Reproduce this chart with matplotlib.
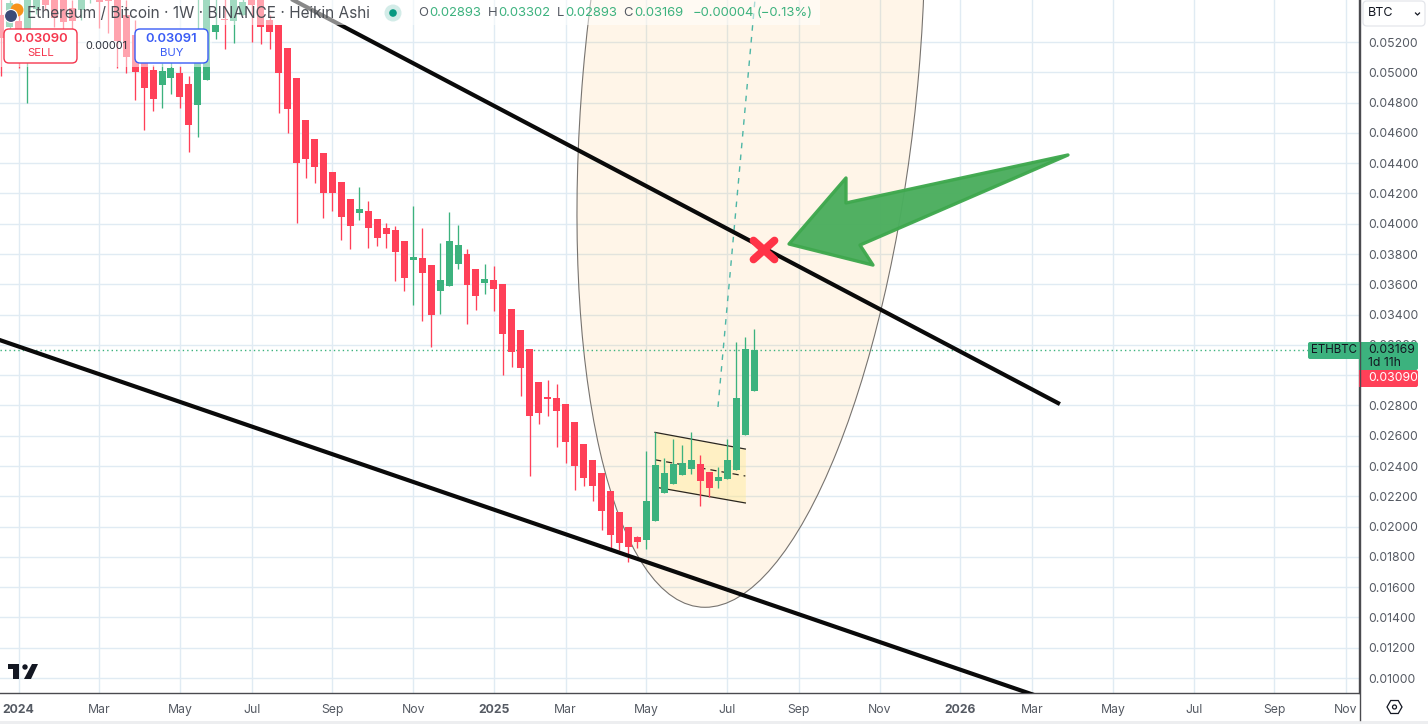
import matplotlib
matplotlib.use("Agg")
import matplotlib.pyplot as plt
from matplotlib.patches import Circle, FancyBboxPatch, Polygon, Rectangle, RegularPolygon
from matplotlib.transforms import Affine2D
import numpy as np

plt.rcParams['font.family'] = ['Inter', 'DejaVu Sans']

# weekly Heikin Ashi candles, first one is two weeks before 2024
first_week = -2
open_ = [.05378,.05299,.05339,.05279,.05418,.05543,.05543,.05543,.05425,.05411,
         .05500,.05543,.05543,.05510,.05378,.05246,.05061,.05015,.04916,.04962,
         .04995,.04923,.04784,.04949,.05266,.05352,.05339,.05378,.05477,.05510,
         .05345,.05312,.05160,.04962,.04685,.04559,.04467,.04342,.04275,.04163,
         .04071,.04084,.04031,.03972,.03958,.03886,.03760,.03774,.03727,.03556,
         .03589,.03734,.03800,.03701,.03609,.03628,.03602,.03437,.03298,.03173,
         .02955,.02856,.02849,.02809,.02691,.02545,.02440,.02354,.02235,.02096,
         .01997,.01931,.01911,.02037,.02222,.02281,.02341,.02380,.02413,.02360,
         .02301,.02314,.02374,.02605,.02893]
close = [.05226,.05458,.05226,.05543,.05543,.05444,.05359,.05332,.05339,.05543,
         .05543,.05464,.05471,.05207,.05101,.05002,.04896,.04824,.05008,.05028,
         .04837,.04652,.05101,.05543,.05312,.05345,.05510,.05464,.05444,.05299,
         .05266,.04995,.04758,.04401,.04427,.04375,.04203,.04203,.04044,.03985,
         .04097,.03972,.03906,.03932,.03813,.03641,.03780,.03675,.03397,.03628,
         .03886,.03859,.03595,.03523,.03635,.03569,.03272,.03153,.03047,.02730,
         .02750,.02842,.02763,.02558,.02400,.02321,.02268,.02103,.01944,.01891,
         .01865,.01898,.02169,.02407,.02354,.02413,.02420,.02440,.02301,.02255,
         .02327,.02440,.02849,.03173,.03169]
high = [.05543,.05477,.05378,.05543,.05543,.05610,.05610,.05610,.05477,.05610,
        .05610,.05610,.05610,.05610,.05477,.05345,.05081,.05048,.05061,.05068,
        .05042,.04975,.05560,.05610,.05543,.05543,.05610,.05543,.05610,.05610,
        .05378,.05312,.05160,.04962,.04685,.04559,.04467,.04342,.04275,.04163,
        .04242,.04150,.04031,.04005,.03985,.03886,.04117,.03972,.03727,.03873,
        .04077,.03992,.03833,.03701,.03734,.03721,.03602,.03437,.03298,.03173,
        .02955,.02968,.02942,.02809,.02691,.02545,.02440,.02354,.02235,.02096,
        .01997,.01938,.02499,.02625,.02453,.02578,.02539,.02625,.02473,.02360,
        .02393,.02578,.03219,.03252,.03302]
low = [.04975,.05279,.05028,.04797,.05385,.05411,.05299,.05286,.05279,.05345,
       .05458,.05293,.05259,.05028,.04995,.04817,.04619,.04744,.04764,.04857,
       .04764,.04474,.04573,.04949,.05220,.05154,.05193,.05378,.05200,.05187,
       .05154,.04731,.04599,.04005,.04302,.04269,.04038,.04084,.03892,.03833,
       .04025,.03840,.03853,.03840,.03622,.03556,.03463,.03358,.03186,.03404,
       .03589,.03701,.03338,.03430,.03536,.03424,.03000,.03054,.02862,.02334,
       .02677,.02730,.02525,.02420,.02241,.02268,.02169,.01977,.01858,.01845,
       .01766,.01858,.01852,.02037,.02222,.02281,.02341,.02347,.02136,.02195,
       .02255,.02314,.02374,.02605,.02893]

last_price = 0.03169
price_ticks = [0.010 + 0.002 * k for k in range(22)]
week_ticks = [0, 9, 18, 26, 35, 44, 53, 61, 70, 79, 87, 96, 105, 113, 122, 131, 140, 148]
week_labels = ['2024', 'Mar', 'May', 'Jul', 'Sep', 'Nov', '2025', 'Mar', 'May', 'Jul',
               'Sep', 'Nov', '2026', 'Mar', 'May', 'Jul', 'Sep', 'Nov']

# drawings on the chart, (week, price)
upper_x = [29.16, 116.1]
upper_y = [.05523, .02809]
lower_x = [-3.18, 113.9]
lower_y = [.03254, .00874]
channel_x = [70.96, 81.03]
channel_top = [.02622, .02512]
channel_mid = [.02441, .02334]
channel_bot = [.02261, .02156]
path_x = [77.98, 82.1]
path_y = [.02790, .05477]
cross_x = [81.94, 84.28]
cross_y = [.03889, .03764]
arrow_x = [85.9, 92.25, 92.25, 117.0, 93.81, 95.26]
arrow_y = [.03866, .04302, .04137, .04454, .03859, .03727]
# tilted ellipse: centre, half width, half height, tilt
ell_cx, ell_cy = 81.66, 0.0500
ell_w, ell_h, ell_rho = 19.4, 0.03533, 0.264

RED = '#FF4058'
GREEN = '#3CB27E'
GRID = '#E0EBF3'
TXT = '#555a63'
W, H = 1428, 724

fig = plt.figure(figsize=(W / 100, H / 100), dpi=100, facecolor='white')
ax = fig.add_axes([0, (H - 693) / H, 1359 / W, 693 / H])
ax.set_xlim(-18.5 / 8.97, (1359 - 18.5) / 8.97)
ax.set_ylim(0.00901, 0.054774)

ax.set_axisbelow(True)
ax.grid(True, color=GRID, lw=1.0)
ax.set_xticks(week_ticks)
ax.set_xticklabels(week_labels)
ax.set_yticks(price_ticks)
ax.set_yticklabels(['%.5f' % p for p in price_ticks])
ax.yaxis.tick_right()
ax.tick_params(axis='both', length=0, labelcolor=TXT, labelsize=8.8)
ax.tick_params(axis='x', pad=8)
ax.tick_params(axis='y', pad=6.5)
for lab in ax.get_xticklabels():
    if lab.get_text().startswith('20'):
        lab.set_fontweight('bold')
for s in ['top', 'left']:
    ax.spines[s].set_visible(False)
for s in ['right', 'bottom']:
    ax.spines[s].set_color('#4a4a4f')
    ax.spines[s].set_linewidth(1.0)

# ellipse with channel and forecast under the candles
m = Affine2D.from_values(ell_w * np.sqrt(1 - ell_rho ** 2), 0, ell_w * ell_rho, ell_h, ell_cx, ell_cy)
ax.add_patch(Circle((0, 0), 1, transform=m + ax.transData, facecolor='#FF9800', alpha=0.09,
                    edgecolor='none', zorder=1.5))
ax.add_patch(Circle((0, 0), 1, transform=m + ax.transData, facecolor='none',
                    edgecolor='#77736f', lw=0.8, zorder=1.6))
ax.fill_between(channel_x, channel_bot, channel_top, color='#FFEB99', alpha=0.45, lw=0, zorder=1.7)
ax.plot(channel_x, channel_top, color='#2a2620', lw=0.9, zorder=1.8)
ax.plot(channel_x, channel_bot, color='#2a2620', lw=0.9, zorder=1.8)
ax.plot(channel_x, channel_mid, color='#2a2620', lw=0.9, ls=(0, (5, 4)), zorder=1.8)
ax.axhline(last_price, color=GREEN, lw=1.0, ls=(0, (1, 2.2)), zorder=1.9)

weeks = np.arange(len(open_)) + first_week
colors = [GREEN if c >= o else RED for o, c in zip(open_, close)]
ax.vlines(weeks, low, high, colors=colors, lw=0.95, zorder=3)
ax.bar(weeks, np.abs(np.array(close) - np.array(open_)), bottom=np.minimum(open_, close),
       width=0.78, color=colors, lw=0, zorder=3.1)

ax.plot(path_x, path_y, color='#4DB6A6', lw=1.0, ls=(0, (4, 4.5)), zorder=3.2)
ax.plot(upper_x, upper_y, color='#0a0a0a', lw=3.0, solid_capstyle='butt', zorder=4)
ax.plot(lower_x, lower_y, color='#0a0a0a', lw=3.0, solid_capstyle='butt', zorder=4)
ax.plot(cross_x, cross_y, color='#FF3347', lw=5.6, solid_capstyle='round', zorder=5)
ax.plot(cross_x, cross_y[::-1], color='#FF3347', lw=5.6, solid_capstyle='round', zorder=5)
ax.add_patch(Polygon(np.column_stack([arrow_x, arrow_y]), closed=True, facecolor='#4BAE5E', alpha=0.97,
                     edgecolor='#3FA84E', lw=2.4, joinstyle='round', zorder=5))

# tradingview chrome, in pixels
ui = fig.add_axes([0, 0, 1, 1], facecolor='none')
ui.set_xlim(0, W)
ui.set_ylim(H, 0)
ui.axis('off')

for box in [(0, 0, 212, 66.6), (212, 0, 160, 25), (408, 0, 412, 25)]:
    ui.add_patch(Rectangle(box[:2], box[2], box[3], facecolor='white', alpha=0.52, lw=0, zorder=1))

ui.add_patch(Circle((17, 10), 6.5, facecolor='#F7931A', lw=0, zorder=2))
ui.add_patch(Circle((11, 16), 6.5, facecolor='#3C4A78', edgecolor='white', lw=0.8, zorder=2.1))
ui.text(27, 13.5, 'Ethereum / Bitcoin · 1W · BINANCE · Heikin Ashi', fontsize=11.05, color='#4b4f56',
        va='center', zorder=3)
ui.add_patch(Circle((393, 13), 8.5, facecolor='#D3ECE8', lw=0, zorder=2))
ui.add_patch(Circle((393, 13), 3.8, facecolor='#089981', lw=0, zorder=3))

ohlc_parts = [(418, 'O', TXT), (429, '0.02893', GREEN), (488, 'H', TXT), (498, '0.03302', GREEN),
              (557, 'L', TXT), (565, '0.02893', GREEN), (623, 'C', TXT), (634, '0.03169', GREEN),
              (693, '−0.00004', GREEN), (757, '(−0.13%)', GREEN)]
for x, s, c in ohlc_parts:
    ui.text(x, 13.5, s, fontsize=9.4, color=c, va='center', zorder=3)

for x0, col, price, side in [(4, '#F5364E', '0.03090', 'SELL'), (135, '#3A5CF5', '0.03091', 'BUY')]:
    ui.add_patch(FancyBboxPatch((x0 + 3, 32), 67, 28, boxstyle='round,pad=3,rounding_size=5',
                                facecolor='white', edgecolor=col, lw=1.0, zorder=4))
    ui.text(x0 + 36.5, 38.5, price, fontsize=9.4, fontweight='semibold', color=col, ha='center', va='center', zorder=5)
    ui.text(x0 + 36.5, 53, side, fontsize=8.2, color=col, ha='center', va='center', zorder=5)
ui.text(106, 46, '0.00001', fontsize=7.9, color='#2a2e39', ha='center', va='center', zorder=5)

ui.add_patch(FancyBboxPatch((1366, 4), 56, 19, boxstyle='round,pad=3,rounding_size=4',
                            facecolor='white', edgecolor='#E4E6EB', lw=0.9, zorder=4))
ui.text(1367.5, 13.5, 'BTC', fontsize=9, color='#131722', va='center', zorder=5)
ui.plot([1415.5, 1417.5, 1419.5], [13, 15, 13], color='#131722', lw=0.9, zorder=5)

ui.add_patch(FancyBboxPatch((1310, 344), 60, 13, boxstyle='round,pad=2,rounding_size=2',
                            facecolor=GREEN, lw=0, zorder=3))
ui.add_patch(FancyBboxPatch((1361, 344), 55, 24, boxstyle='round,pad=2,rounding_size=2',
                            facecolor=GREEN, lw=0, zorder=3))
ui.add_patch(Rectangle((1359, 342), 10, 28, facecolor=GREEN, lw=0, zorder=3))
ui.add_patch(FancyBboxPatch((1361, 372), 55, 13, boxstyle='round,pad=2,rounding_size=2',
                            facecolor=RED, lw=0, zorder=3))
ui.add_patch(Rectangle((1359, 370), 10, 17, facecolor=RED, lw=0, zorder=3))
ui.plot([1359.5, 1359.5], [0, 720], color='#4a4a4f', lw=1.0, zorder=3.5)
ui.text(1333.5, 350, 'ETHBTC', fontsize=8.3, color='#131722', ha='center', va='center', zorder=5)
ui.text(1368, 350, '0.03169', fontsize=8.8, color='#131722', va='center', zorder=5)
ui.text(1368, 363, '1d 11h', fontsize=8.8, color='#131722', va='center', zorder=5)
ui.text(1368, 378, '0.03090', fontsize=8.8, color='white', va='center', zorder=5)

ui.add_patch(Polygon([(8, 664), (19, 664), (19, 679), (13, 679), (13, 669), (8, 669)], facecolor='#131722', lw=0))
ui.add_patch(Circle((25, 667), 2.7, facecolor='#131722', lw=0))
ui.add_patch(Polygon([(32, 664), (38, 664), (31, 679), (24, 679)], facecolor='#131722', lw=0))
ui.add_patch(RegularPolygon((1394.5, 707), 6, radius=7.5, orientation=np.pi / 6, facecolor='none',
                            edgecolor='#131722', lw=0.9))
ui.add_patch(Circle((1394.5, 707), 2, facecolor='none', edgecolor='#131722', lw=0.9))
ui.add_patch(Rectangle((0, 721), W, 3, facecolor='#EDEEF0', lw=0))

fig.savefig('out.png', dpi=100)
